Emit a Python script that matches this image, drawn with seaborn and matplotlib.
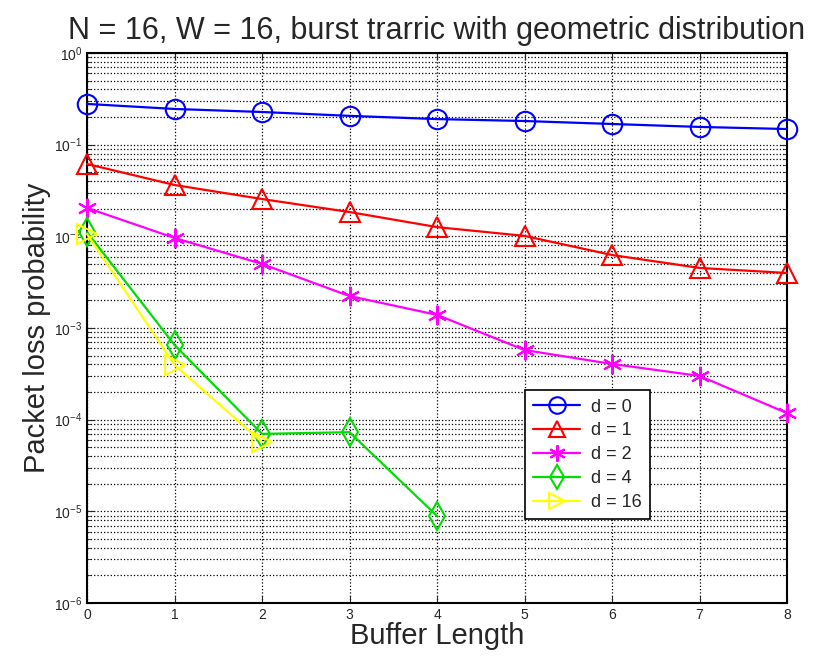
import numpy as np
import pandas as pd
import matplotlib
matplotlib.use("Agg")
import matplotlib.pyplot as plt
import seaborn as sns
from matplotlib.ticker import LogLocator, NullFormatter

# data
buffer_len = [0, 1, 2, 3, 4, 5, 6, 7, 8]
loss_d0 = [0.278, 0.245, 0.227, 0.206, 0.19, 0.181, 0.168, 0.156, 0.148]
loss_d1 = [0.0615, 0.0363, 0.0255, 0.0184, 0.0126, 0.0101, 0.00625, 0.00452, 0.00398]
loss_d2 = [0.0204, 0.0096, 0.0050, 0.00223, 0.00139, 0.000575, 0.000405, 0.0003, 0.000118]
loss_d4 = [0.0111, 0.000653, 7.0e-5, 7.3e-5, 8.9e-6]
loss_d16 = [0.0106, 0.000395, 5.7e-5]

series_labels = ["d = 0", "d = 1", "d = 2", "d = 4", "d = 16"]
series_values = [loss_d0, loss_d1, loss_d2, loss_d4, loss_d16]
colors = ["#0000ff", "#ff0000", "#ff00ff", "#00dd00", "#ffff00"]
markers = ["o", "^", (6, 2, 0), "d", ">"]

sns.set_style("ticks")
plt.rcParams["font.family"] = ["Liberation Sans", "DejaVu Sans"]
plt.rcParams["mathtext.fontset"] = "custom"
plt.rcParams["mathtext.rm"] = "Liberation Sans"
plt.rcParams["mathtext.it"] = "Liberation Sans"
plt.rcParams["mathtext.default"] = "regular"

fig = plt.figure(figsize=(8.18, 6.62), dpi=100)
ax = fig.add_axes([0.1064, 0.0891, 0.8557, 0.8309])

for lab, vals, col, mk in zip(series_labels, series_values, colors, markers):
    df = pd.DataFrame({"Buffer Length": buffer_len[:len(vals)], "loss": vals})
    sns.lineplot(data=df, x="Buffer Length", y="loss", ax=ax, color=col,
                 marker=mk, markersize=14, markerfacecolor="none",
                 markeredgecolor=col, markeredgewidth=1.5, linewidth=1.6,
                 label=lab, clip_on=False, zorder=3)

ax.set_yscale("log")
ax.set_ylim(1e-6, 1)
ax.set_xlim(0, 8)
ax.set_xticks(buffer_len)
ax.yaxis.set_major_locator(LogLocator(base=10, numticks=10))
ax.yaxis.set_minor_locator(LogLocator(base=10, subs=np.arange(2, 10), numticks=20))
ax.yaxis.set_minor_formatter(NullFormatter())

ax.grid(which="major", linestyle=":", color="k", linewidth=0.9)
ax.grid(which="minor", axis="y", linestyle=":", color="k", linewidth=0.9)
ax.tick_params(which="both", direction="in", top=True, right=True, labelsize=10)
ax.tick_params(which="major", length=5)
ax.tick_params(which="minor", length=3)
for s in ax.spines.values():
    s.set_linewidth(1.5)
    s.set_color("k")

ax.set_title("N = 16, W = 16, burst trarric with geometric distribution",
             fontsize=22, pad=10)
ax.set_xlabel("Buffer Length", fontsize=21, labelpad=0)
ax.set_ylabel("Packet loss probability", fontsize=21, labelpad=2)

leg = ax.legend(loc="lower left", bbox_to_anchor=(0.613, 0.136), fontsize=13,
                fancybox=False, framealpha=1, edgecolor="k", borderpad=0.45,
                handlelength=2.6, handletextpad=0.6, labelspacing=0.38,
                markerscale=0.85)
leg.get_frame().set_linewidth(1.2)

fig.savefig("out.png", dpi=100)
